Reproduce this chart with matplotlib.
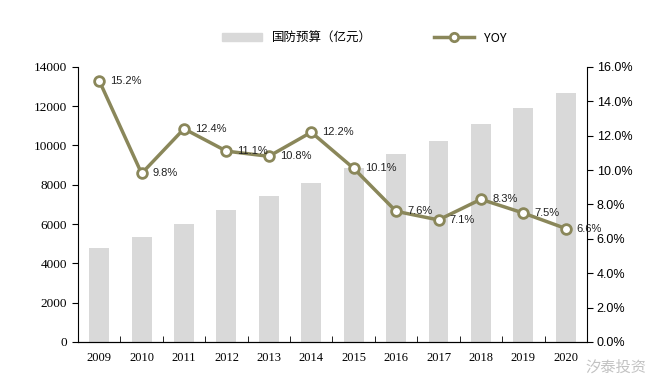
import matplotlib.pyplot as plt
from matplotlib.lines import Line2D
from matplotlib.patches import Patch
from matplotlib.ticker import FuncFormatter

years = ["2009", "2010", "2011", "2012", "2013", "2014",
         "2015", "2016", "2017", "2018", "2019", "2020"]
budget = [4807, 5321, 6011, 6703, 7410, 8082, 8869, 9544, 10226, 11070, 11899, 12680]
yoy = [15.2, 9.8, 12.4, 11.1, 10.8, 12.2, 10.1, 7.6, 7.1, 8.3, 7.5, 6.6]

bar_color = "#d9d9d9"
line_color = "#8a875a"

fig = plt.figure(figsize=(6.5, 3.8), dpi=100)
ax = fig.add_axes([0.12, 0.10, 0.783, 0.724])
x = list(range(len(years)))

ax.bar(x, budget, width=0.47, color=bar_color, zorder=1)
ax.set_ylim(0, 14000)
ax.set_yticks(range(0, 14001, 2000))
ax.set_xlim(-0.5, len(years) - 0.5)
ax.set_xticks(x)
ax.set_xticklabels(years, family="Liberation Serif", fontsize=9)
ax.set_xticks([i + 0.5 for i in x[:-1]], minor=True)
ax.tick_params(axis="x", which="major", length=0, pad=7)
ax.tick_params(axis="x", which="minor", direction="in", length=4)
ax.tick_params(axis="y", labelsize=9.5, length=4, pad=4)
for lab in ax.get_yticklabels():
    lab.set_family("Liberation Serif")
ax.spines["top"].set_visible(False)
ax.spines["right"].set_visible(False)

ax2 = ax.twinx()
ax2.plot(x, yoy, color=line_color, lw=2.5, marker="o", ms=7,
         mfc="white", mec=line_color, mew=2, zorder=3)
ax2.set_ylim(0, 16)
ax2.set_yticks(range(0, 17, 2))
ax2.yaxis.set_major_formatter(FuncFormatter(lambda v, p: f"{v:.1f}%"))
ax2.tick_params(axis="y", labelsize=9, length=4, pad=3)
for lab in ax2.get_yticklabels():
    lab.set_family("Liberation Sans")
ax2.spines["top"].set_visible(False)
ax2.spines["left"].set_visible(False)

for xi, v in zip(x, yoy):
    ax2.annotate(f"{v}%", (xi, v), xytext=(8, 0), textcoords="offset points",
                 va="center", ha="left", fontsize=8, family="Liberation Sans",
                 color="#222222")

handles = [Patch(color=bar_color),
           Line2D([], [], color=line_color, lw=2.5, marker="o", ms=6,
                  mfc="white", mec=line_color, mew=2)]
fig.legend(handles, ["国防预算（亿元）", "YOY"], loc="center", ncol=2,
           bbox_to_anchor=(0.56, 0.9), frameon=False, columnspacing=5,
           handlelength=3.2, handleheight=0.6,
           prop={"family": ["Noto Sans CJK SC", "DejaVu Sans"], "size": 9})

# watermark
fig.text(0.995, 0.035, "汐泰投资", fontsize=11, color="#9a9a9a", alpha=0.6,
         ha="right", va="center", style="italic",
         family=["Noto Sans CJK SC", "DejaVu Sans"])

fig.savefig("out.png", dpi=100)
